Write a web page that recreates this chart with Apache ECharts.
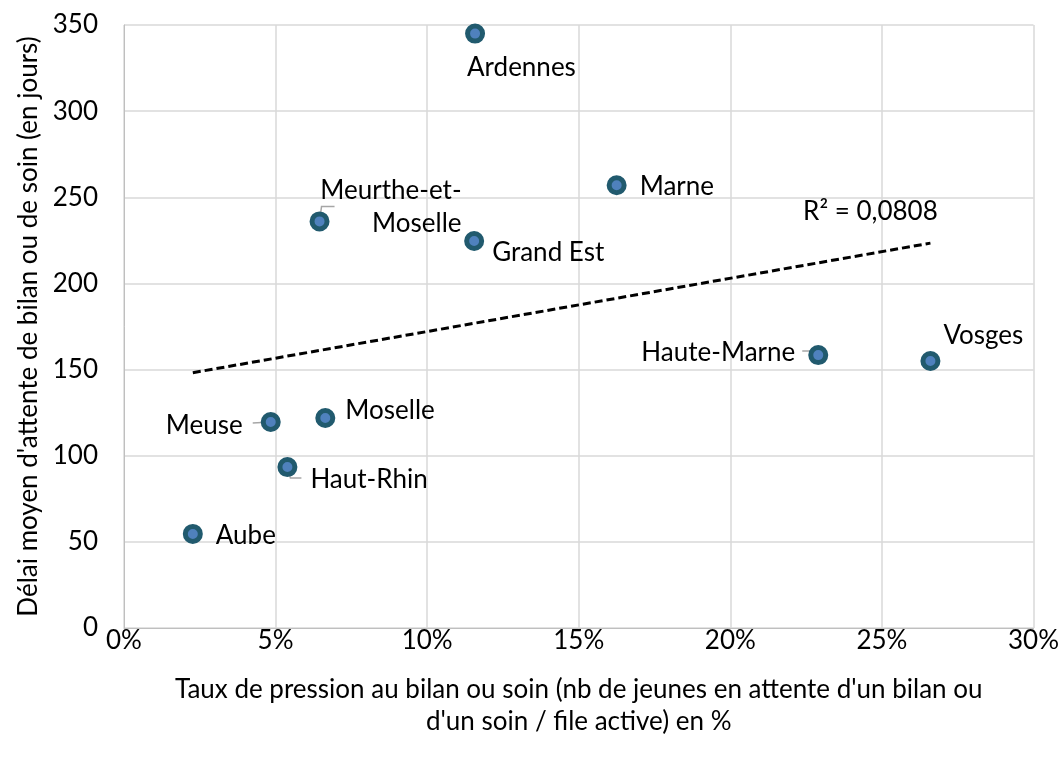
<!DOCTYPE html>
<html><head><meta charset="utf-8">
<script src="https://cdn.jsdelivr.net/npm/echarts@6/dist/echarts.min.js"></script>
<style>html,body{margin:0;padding:0;background:#fff}#c{width:1062px;height:760px}</style>
</head><body><div id="c"></div>
<script>
// Data
const names = ['Ardennes','Marne','Meurthe-et-\nMoselle','Grand Est','Haute-Marne','Vosges','Meuse','Moselle','Haut-Rhin','Aube'];
const pressure = [0.1158,0.1625,0.0645,0.1155,0.229,0.266,0.0484,0.0664,0.0539,0.0227];
const delay = [345,257,236,224.6,158.4,155,119.6,121.9,93.4,54.6];
const xTicks = [0,0.05,0.10,0.15,0.20,0.25,0.30];
const yTicks = [0,50,100,150,200,250,300,350];
const r2Text = 'R² = 0,0808';
const xTitle = "Taux de pression au bilan ou soin (nb de jeunes en attente d'un bilan ou\nd'un soin / file active) en %";
const yTitle = "Délai moyen d'attente de bilan ou de soin (en jours)";

// Label placement (pixels relative to point), separate from data
const labelPlace = {
  'Ardennes':[-8,34,'left'],
  'Marne':[23,1,'left'],
  'Meurthe-et-\nMoselle':[142,-14,'right'],
  'Grand Est':[18,12,'left'],
  'Haute-Marne':[-23,-2,'right'],
  'Vosges':[13,-25,'left'],
  'Meuse':[-28,4,'right'],
  'Moselle':[20,-7,'left'],
  'Haut-Rhin':[23,13,'left'],
  'Aube':[23,2,'left']
};
const leaders = {
  'Meurthe-et-\nMoselle':[[0,0],[2,-15],[15,-15]],
  'Meuse':[[0,0],[-18,1]],
  'Haut-Rhin':[[0,0],[3,11],[14,11]],
  'Haute-Marne':[[0,0],[-5,-4],[-16,-4]]
};

// Linear regression (trendline)
const n = pressure.length;
const mx = pressure.reduce((a,b)=>a+b,0)/n;
const my = delay.reduce((a,b)=>a+b,0)/n;
let sxy=0,sxx=0;
for(let i=0;i<n;i++){sxy+=(pressure[i]-mx)*(delay[i]-my);sxx+=(pressure[i]-mx)**2;}
const slope=sxy/sxx, icpt=my-slope*mx;
const xMin=Math.min(...pressure), xMax=Math.max(...pressure);
const trend=[[xMin,icpt+slope*xMin],[xMax,icpt+slope*xMax]];

const FONT='Lato';
const FS=26;
const pts = names.map((nm,i)=>{
  const p=labelPlace[nm];
  return {name:nm,value:[pressure[i],delay[i]],label:{show:true,position:'inside',offset:[p[0],p[1]],align:p[2],verticalAlign:'middle',formatter:nm}};
});
const leaderData = names.map((nm,i)=>[pressure[i],delay[i],nm]).filter(d=>leaders[d[2]]);

const chart = echarts.init(document.getElementById('c'));
chart.setOption({
  animation:false,
  textStyle:{fontFamily:FONT},
  grid:{left:124,right:27,top:25,bottom:132,containLabel:false},
  xAxis:{type:'value',min:0,max:0.3,interval:0.05,
    axisLine:{show:true,lineStyle:{color:'#bfbfbf'}},axisTick:{show:false},
    splitLine:{show:true,lineStyle:{color:'#d9d9d9',width:1.5}},
    axisLabel:{color:'#000',fontSize:FS,fontFamily:FONT,margin:0,formatter:v=>Math.round(v*100)+'%'},
    name:xTitle,nameLocation:'middle',nameGap:46,
    nameTextStyle:{color:'#000',fontSize:FS,fontFamily:FONT,lineHeight:32,align:'center'}},
  yAxis:{type:'value',min:0,max:350,interval:50,
    axisLine:{show:true,lineStyle:{color:'#bfbfbf'}},axisTick:{show:false},
    splitLine:{show:true,lineStyle:{color:'#d9d9d9',width:1.5}},
    axisLabel:{color:'#000',fontSize:FS,fontFamily:FONT,margin:26},
    name:yTitle,nameLocation:'middle',nameGap:78,
    nameTextStyle:{color:'#000',fontSize:FS,fontFamily:FONT}},
  series:[
    {type:'line',data:trend,showSymbol:false,symbol:'none',
      lineStyle:{color:'#000',width:3,type:[8,4]},z:1,silent:true},
    {type:'scatter',data:[trend[1]],symbolSize:2,itemStyle:{color:'rgba(255,255,255,0)'},silent:true,z:4,
      label:{show:true,position:'inside',offset:[-60,-32],align:'center',verticalAlign:'middle',formatter:r2Text,
        color:'#000',fontSize:FS,fontFamily:FONT,textBorderWidth:0,textBorderColor:'transparent',opacity:1}},
    {type:'custom',data:leaderData,z:2,silent:true,
      renderItem:(params,api)=>{
        const c=api.coord([api.value(0),api.value(1)]);
        const nm=leaderData[params.dataIndex][2];
        const pp=leaders[nm].map(o=>[c[0]+o[0],c[1]+o[1]]);
        return {type:'polyline',shape:{points:pp},style:{stroke:'#a6a6a6',lineWidth:1.5,fill:null}};
      }},
    {type:'scatter',data:pts,symbolSize:15,z:3,
      itemStyle:{color:'#4f81bd',borderColor:'#215a6e',borderWidth:5,opacity:1},
      label:{color:'#000',fontSize:FS,fontFamily:FONT,lineHeight:33}}
  ]
});
</script></body></html>
